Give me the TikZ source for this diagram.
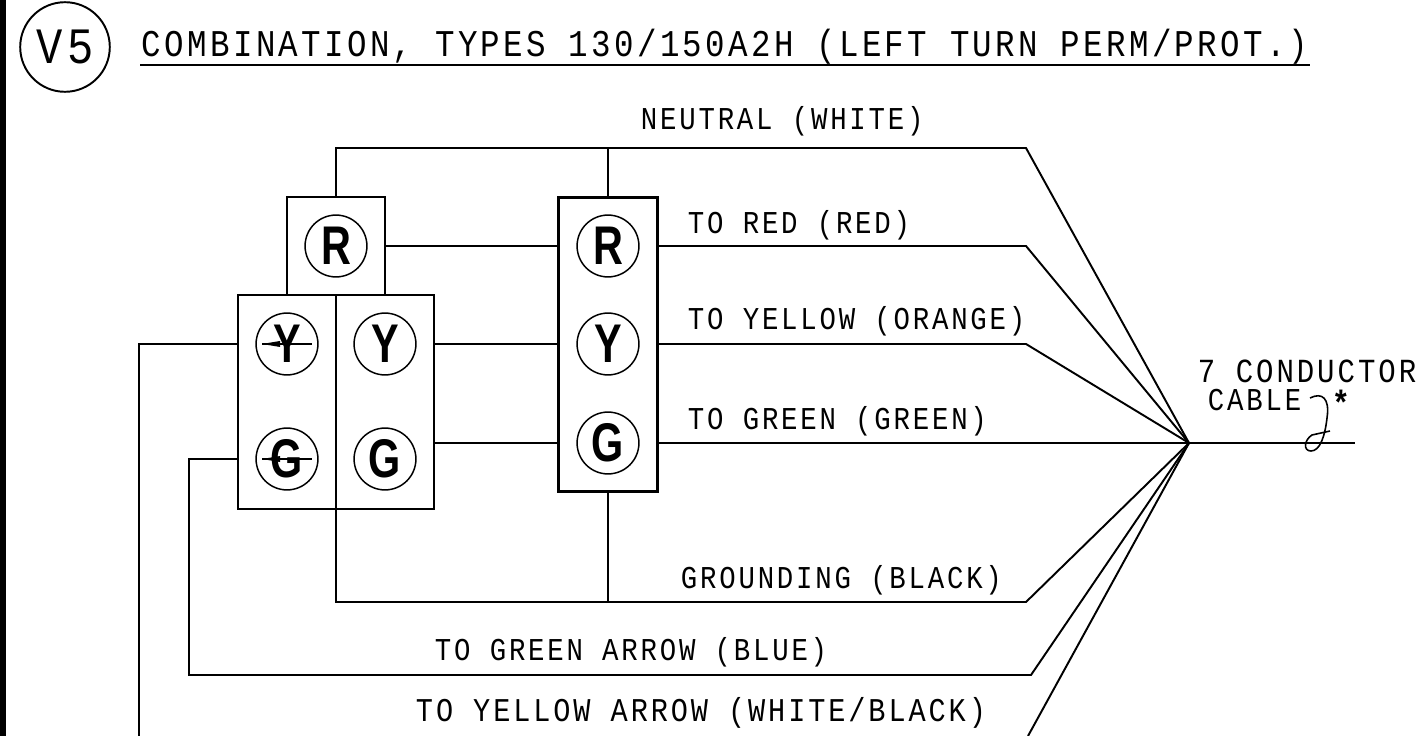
\documentclass[tikz,border=0pt]{standalone}
\usepackage{fontspec}
\setmainfont[FakeStretch=0.86,LetterSpace=8.8]{Liberation Mono}
\newfontfamily\lampfont[FakeStretch=0.76]{Liberation Sans}
\usetikzlibrary{positioning}
\begin{document}
\begin{tikzpicture}[x=0.02cm,y=-0.02cm,line width=1.1pt,
    wire/.style={line width=1.1pt,line join=miter},
    lamp node/.style={circle,draw,line width=0.85pt,minimum size=35.2pt,inner sep=0pt,font=\fontsize{31}{31}\lampfont\bfseries},
    head box/.style={rectangle,draw,line width=1.1pt,inner sep=0pt},
    label node/.style={inner sep=0pt,anchor=west,font=\fontsize{18.1}{18}\selectfont}]

    \useasboundingbox (0,0) rectangle (1423,736);
    \fill (0,0) rectangle (6,736);

    % title
    \node[circle,draw,line width=1.1pt,minimum size=51pt,inner sep=0pt,font=\fontsize{29}{29}\selectfont] at (65, 47) (v5) {V5};
    \node[inner sep=0pt,anchor=west,font=\fontsize{21.5}{22}\selectfont] at (141, 47) (title) {COMBINATION, TYPES 130/150A2H (LEFT TURN PERM/PROT.)};
    \coordinate (ul1) at (140, 65);
    \coordinate (ul2) at (1310, 65);
    \draw[wire] (ul1) -- (ul2);

    % signal heads
    \node[head box,minimum width=55.5pt,minimum height=55.5pt] at (336, 246) (top box) {};
    \node[head box,minimum width=55.8pt,minimum height=121.3pt] at (287, 402) (left box) {};
    \node[head box,minimum width=55.8pt,minimum height=121.3pt] at (385, 402) (right box) {};
    \node[head box,line width=1.7pt,minimum width=56.1pt,minimum height=167.2pt] at (608, 344.5) (main box) {};

    \node[lamp node] at (336, 246) (r1) {R};
    \node[lamp node] at (287, 344) (ya) {Y};
    \node[lamp node] at (385, 344) (y1) {Y};
    \node[lamp node] at (287, 459) (ga) {G};
    \node[lamp node] at (385, 459) (g1) {G};
    \node[lamp node] at (608, 246) (r2) {R};
    \node[lamp node] at (608, 344) (y2) {Y};
    \node[lamp node] at (608, 443) (g2) {G};

    % arrows through the lamps
    \coordinate (yat) at (262, 344);
    \coordinate (yae) at (312, 344);
    \coordinate (gat) at (262, 459);
    \coordinate (gae) at (312, 459);
    \draw[line width=0.8pt] (yat) -- (yae);
    \draw[line width=0.8pt] (gat) -- (gae);
    \fill (yat) -- (280, 341) -- (280, 347) -- cycle;
    \fill (gat) -- (280, 456) -- (280, 462) -- cycle;

    % wiring points
    \coordinate (hub) at (1189, 443);
    \coordinate (end) at (1355, 443);
    \coordinate (n0) at (336, 148);
    \coordinate (n1) at (608, 148);
    \coordinate (n2) at (1026, 148);
    \coordinate (red) at (1026, 246);
    \coordinate (org) at (1026, 344);
    \coordinate (b0) at (336, 602);
    \coordinate (b1) at (608, 602);
    \coordinate (b2) at (1026, 602);
    \coordinate (blue0) at (189, 459);
    \coordinate (blue1) at (189, 675);
    \coordinate (blue2) at (1031, 675);
    \coordinate (wb0) at (139, 344);
    \coordinate (wb1) at (139, 736);
    \coordinate (wb2) at (1028, 736);

    \draw[wire] (top box.north) -- (n0) -- (n2) -- (hub);
    \draw[wire] (n1) -- (main box.north);
    \draw[wire] (top box.east) -- (main box.west |- top box.east);
    \draw[wire] (main box.east |- r2) -- (red) -- (hub);
    \draw[wire] (right box.east |- y2) -- (main box.west |- y2);
    \draw[wire] (main box.east |- y2) -- (org) -- (hub);
    \draw[wire] (right box.east |- g2) -- (main box.west |- g2);
    \draw[wire] (main box.east |- g2) -- (hub) -- (end);
    \draw[wire] (b0 |- left box.south) -- (b0) -- (b2) -- (hub);
    \draw[wire] (main box.south) -- (b1);
    \draw[wire] (left box.west |- ga) -- (blue0) -- (blue1) -- (blue2) -- (hub);
    \draw[wire] (left box.west |- ya) -- (wb0) -- (wb1);
    \draw[wire] (wb2) -- (hub);

    % cable note
    \coordinate (sq0) at (1310, 398);
    \coordinate (sq1) at (1330, 431);
    \draw[line width=0.9pt] (sq0) .. controls (1322, 392) and (1330, 398) .. (1327, 418)
        .. controls (1325, 436) and (1320, 451) .. (1311, 451)
        .. controls (1303, 451) and (1304, 440) .. (1312, 435) -- (sq1);

    % labels
    \node[label node] at (640, 121) (neutral) {NEUTRAL (WHITE)};
    \node[label node] at (687, 225) (to red) {TO RED (RED)};
    \node[label node] at (687, 321) (to yellow) {TO YELLOW (ORANGE)};
    \node[label node] at (687, 421) (to green) {TO GREEN (GREEN)};
    \node[label node] at (680, 580) (grounding) {GROUNDING (BLACK)};
    \node[label node] at (434, 652) (to garrow) {TO GREEN ARROW (BLUE)};
    \node[label node,font=\fontsize{18.9}{19}\selectfont] at (415, 713) (to yarrow) {TO YELLOW ARROW (WHITE/BLACK)};
    \node[label node,font=\fontsize{19.2}{19}\selectfont] at (1197, 371) (cond) {7 CONDUCTOR};
    \node[label node] at (1207, 400) (cable) {CABLE};
    \node[inner sep=0pt,font=\fontsize{20}{20}\bfseries\selectfont] at (1341, 403) (star) {*};
\end{tikzpicture}
\end{document}
